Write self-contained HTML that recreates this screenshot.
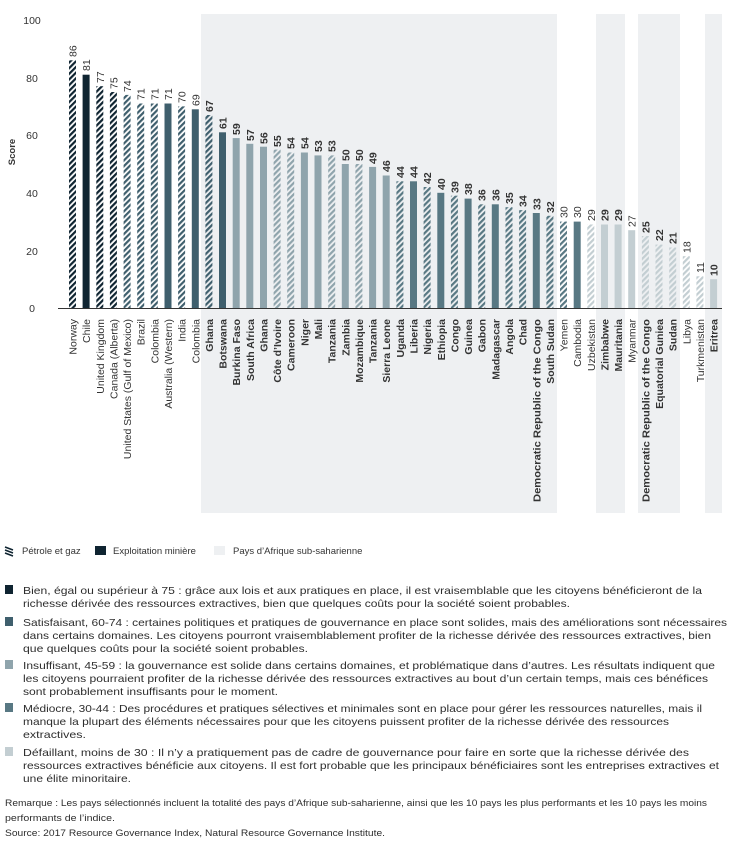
<!DOCTYPE html>
<html><head><meta charset="utf-8"><style>
body{margin:0;width:731px;height:843px;background:#fff;font-family:"Liberation Sans",sans-serif;color:#333;position:relative;overflow:hidden}
</style></head><body>
<svg width="731" height="843" style="position:absolute;left:0;top:0" font-family="Liberation Sans, sans-serif">
<defs>
<pattern id="h1" width="4" height="4" patternUnits="userSpaceOnUse" patternTransform="rotate(45)"><rect width="2.2" height="4" fill="#0f2431"/></pattern>
<pattern id="h2" width="4" height="4" patternUnits="userSpaceOnUse" patternTransform="rotate(45)"><rect width="2.2" height="4" fill="#3f5f6d"/></pattern>
<pattern id="h3" width="4" height="4" patternUnits="userSpaceOnUse" patternTransform="rotate(45)"><rect width="2.2" height="4" fill="#8fa4ac"/></pattern>
<pattern id="h4" width="4" height="4" patternUnits="userSpaceOnUse" patternTransform="rotate(45)"><rect width="2.2" height="4" fill="#587883"/></pattern>
<pattern id="h5" width="4" height="4" patternUnits="userSpaceOnUse" patternTransform="rotate(45)"><rect width="2.2" height="4" fill="#c3ced2"/></pattern>
</defs>
<rect x="201" y="14" width="356" height="499" fill="#eef0f2"/>
<rect x="596" y="14" width="29" height="499" fill="#eef0f2"/>
<rect x="638" y="14" width="42" height="499" fill="#eef0f2"/>
<rect x="705" y="14" width="17" height="499" fill="#eef0f2"/>
<g font-size="10.5" fill="#333" text-anchor="middle">
<text x="32" y="24">100</text><text x="32" y="82">80</text><text x="32" y="139">60</text><text x="32" y="197">40</text><text x="32" y="255">20</text><text x="32" y="312">0</text>
</g>
<text transform="translate(15,152) rotate(-90)" font-size="9.5" font-weight="bold" text-anchor="middle" fill="#333">Score</text>
<g>
<rect x="69" y="60.3" width="7" height="247.7" fill="url(#h1)"/>
<rect x="82.6" y="74.7" width="7" height="233.3" fill="#0f2431"/>
<rect x="96.3" y="86.2" width="7" height="221.8" fill="url(#h1)"/>
<rect x="109.9" y="92" width="7" height="216" fill="url(#h1)"/>
<rect x="123.6" y="94.9" width="7" height="213.1" fill="url(#h2)"/>
<rect x="137.2" y="103.5" width="7" height="204.5" fill="url(#h2)"/>
<rect x="150.8" y="103.5" width="7" height="204.5" fill="url(#h2)"/>
<rect x="164.5" y="103.5" width="7" height="204.5" fill="#3f5f6d"/>
<rect x="178.1" y="106.4" width="7" height="201.6" fill="url(#h2)"/>
<rect x="191.8" y="109.3" width="7" height="198.7" fill="#3f5f6d"/>
<rect x="205.4" y="115" width="7" height="193" fill="url(#h2)"/>
<rect x="219" y="132.3" width="7" height="175.7" fill="#3f5f6d"/>
<rect x="232.7" y="138.1" width="7" height="169.9" fill="#8fa4ac"/>
<rect x="246.3" y="143.8" width="7" height="164.2" fill="#8fa4ac"/>
<rect x="260" y="146.7" width="7" height="161.3" fill="#8fa4ac"/>
<rect x="273.6" y="149.6" width="7" height="158.4" fill="url(#h3)"/>
<rect x="287.2" y="152.5" width="7" height="155.5" fill="url(#h3)"/>
<rect x="300.9" y="152.5" width="7" height="155.5" fill="#8fa4ac"/>
<rect x="314.5" y="155.4" width="7" height="152.6" fill="#8fa4ac"/>
<rect x="328.2" y="155.4" width="7" height="152.6" fill="url(#h3)"/>
<rect x="341.8" y="164" width="7" height="144" fill="#8fa4ac"/>
<rect x="355.4" y="164" width="7" height="144" fill="url(#h3)"/>
<rect x="369.1" y="166.9" width="7" height="141.1" fill="#8fa4ac"/>
<rect x="382.7" y="175.5" width="7" height="132.5" fill="#8fa4ac"/>
<rect x="396.4" y="181.3" width="7" height="126.7" fill="url(#h4)"/>
<rect x="410" y="181.3" width="7" height="126.7" fill="#587883"/>
<rect x="423.6" y="187" width="7" height="121" fill="url(#h4)"/>
<rect x="437.3" y="192.8" width="7" height="115.2" fill="#587883"/>
<rect x="450.9" y="195.7" width="7" height="112.3" fill="url(#h4)"/>
<rect x="464.6" y="198.6" width="7" height="109.4" fill="#587883"/>
<rect x="478.2" y="204.3" width="7" height="103.7" fill="url(#h4)"/>
<rect x="491.8" y="204.3" width="7" height="103.7" fill="#587883"/>
<rect x="505.5" y="207.2" width="7" height="100.8" fill="url(#h4)"/>
<rect x="519.1" y="210.1" width="7" height="97.9" fill="url(#h4)"/>
<rect x="532.8" y="213" width="7" height="95" fill="#587883"/>
<rect x="546.4" y="215.8" width="7" height="92.2" fill="url(#h4)"/>
<rect x="560" y="221.6" width="7" height="86.4" fill="url(#h4)"/>
<rect x="573.7" y="221.6" width="7" height="86.4" fill="#587883"/>
<rect x="587.3" y="224.5" width="7" height="83.5" fill="url(#h5)"/>
<rect x="601" y="224.5" width="7" height="83.5" fill="#c3ced2"/>
<rect x="614.6" y="224.5" width="7" height="83.5" fill="#c3ced2"/>
<rect x="628.2" y="230.2" width="7" height="77.8" fill="#c3ced2"/>
<rect x="641.9" y="236" width="7" height="72" fill="url(#h5)"/>
<rect x="655.5" y="244.6" width="7" height="63.4" fill="url(#h5)"/>
<rect x="669.2" y="247.5" width="7" height="60.5" fill="url(#h5)"/>
<rect x="682.8" y="256.2" width="7" height="51.8" fill="url(#h5)"/>
<rect x="696.4" y="276.3" width="7" height="31.7" fill="url(#h5)"/>
<rect x="710.1" y="279.2" width="7" height="28.8" fill="#c3ced2"/>
</g>
<line x1="58" y1="308.5" x2="722" y2="308.5" stroke="#333" stroke-width="1"/>
<g font-size="10.5" fill="#333">
<text transform="translate(76.5,57) rotate(-90)">86</text>
<text transform="translate(90.1,71) rotate(-90)">81</text>
<text transform="translate(103.8,83) rotate(-90)">77</text>
<text transform="translate(117.4,89) rotate(-90)">75</text>
<text transform="translate(131.1,92) rotate(-90)">74</text>
<text transform="translate(144.7,100) rotate(-90)">71</text>
<text transform="translate(158.3,100) rotate(-90)">71</text>
<text transform="translate(172,100) rotate(-90)">71</text>
<text transform="translate(185.6,103) rotate(-90)">70</text>
<text transform="translate(199.3,106) rotate(-90)">69</text>
<text transform="translate(567.5,218) rotate(-90)">30</text>
<text transform="translate(581.2,218) rotate(-90)">30</text>
<text transform="translate(594.8,221) rotate(-90)">29</text>
<text transform="translate(635.7,227) rotate(-90)">27</text>
<text transform="translate(690.3,253) rotate(-90)">18</text>
<text transform="translate(703.9,273) rotate(-90)">11</text>
</g>
<g font-size="10.5" fill="#333" font-weight="bold">
<text transform="translate(212.9,112) rotate(-90)">67</text>
<text transform="translate(226.5,129) rotate(-90)">61</text>
<text transform="translate(240.2,135) rotate(-90)">59</text>
<text transform="translate(253.8,141) rotate(-90)">57</text>
<text transform="translate(267.5,144) rotate(-90)">56</text>
<text transform="translate(281.1,147) rotate(-90)">55</text>
<text transform="translate(294.7,149) rotate(-90)">54</text>
<text transform="translate(308.4,149) rotate(-90)">54</text>
<text transform="translate(322,152) rotate(-90)">53</text>
<text transform="translate(335.7,152) rotate(-90)">53</text>
<text transform="translate(349.3,161) rotate(-90)">50</text>
<text transform="translate(362.9,161) rotate(-90)">50</text>
<text transform="translate(376.6,164) rotate(-90)">49</text>
<text transform="translate(390.2,172) rotate(-90)">46</text>
<text transform="translate(403.9,178) rotate(-90)">44</text>
<text transform="translate(417.5,178) rotate(-90)">44</text>
<text transform="translate(431.1,184) rotate(-90)">42</text>
<text transform="translate(444.8,190) rotate(-90)">40</text>
<text transform="translate(458.4,193) rotate(-90)">39</text>
<text transform="translate(472.1,195) rotate(-90)">38</text>
<text transform="translate(485.7,201) rotate(-90)">36</text>
<text transform="translate(499.3,201) rotate(-90)">36</text>
<text transform="translate(513,204) rotate(-90)">35</text>
<text transform="translate(526.6,207) rotate(-90)">34</text>
<text transform="translate(540.3,210) rotate(-90)">33</text>
<text transform="translate(553.9,213) rotate(-90)">32</text>
<text transform="translate(608.5,221) rotate(-90)">29</text>
<text transform="translate(622.1,221) rotate(-90)">29</text>
<text transform="translate(649.4,233) rotate(-90)">25</text>
<text transform="translate(663,241) rotate(-90)">22</text>
<text transform="translate(676.7,244) rotate(-90)">21</text>
<text transform="translate(717.6,276) rotate(-90)">10</text>
</g>
<g font-size="10.5" fill="#333" text-anchor="end">
<text transform="translate(76.5,319) rotate(-90)">Norway</text>
<text transform="translate(90.1,319) rotate(-90)">Chile</text>
<text transform="translate(103.8,319) rotate(-90)">United Kingdom</text>
<text transform="translate(117.4,319) rotate(-90)">Canada (Alberta)</text>
<text transform="translate(131.1,319) rotate(-90)">United States (Gulf of Mexico)</text>
<text transform="translate(144.7,319) rotate(-90)">Brazil</text>
<text transform="translate(158.3,319) rotate(-90)">Colombia</text>
<text transform="translate(172,319) rotate(-90)">Australia (Western)</text>
<text transform="translate(185.6,319) rotate(-90)">India</text>
<text transform="translate(199.3,319) rotate(-90)">Colombia</text>
<text transform="translate(567.5,319) rotate(-90)">Yemen</text>
<text transform="translate(581.2,319) rotate(-90)">Cambodia</text>
<text transform="translate(594.8,319) rotate(-90)">Uzbekistan</text>
<text transform="translate(635.7,319) rotate(-90)">Myanmar</text>
<text transform="translate(690.3,319) rotate(-90)">Libya</text>
<text transform="translate(703.9,319) rotate(-90)">Turkmenistan</text>
</g>
<g font-size="10.5" fill="#333" text-anchor="end" font-weight="bold">
<text transform="translate(212.9,319) rotate(-90)">Ghana</text>
<text transform="translate(226.5,319) rotate(-90)">Botswana</text>
<text transform="translate(240.2,319) rotate(-90)">Burkina Faso</text>
<text transform="translate(253.8,319) rotate(-90)">South Africa</text>
<text transform="translate(267.5,319) rotate(-90)">Ghana</text>
<text transform="translate(281.1,319) rotate(-90)">Côte d’Ivoire</text>
<text transform="translate(294.7,319) rotate(-90)">Cameroon</text>
<text transform="translate(308.4,319) rotate(-90)">Niger</text>
<text transform="translate(322,319) rotate(-90)">Mali</text>
<text transform="translate(335.7,319) rotate(-90)">Tanzania</text>
<text transform="translate(349.3,319) rotate(-90)">Zambia</text>
<text transform="translate(362.9,319) rotate(-90)">Mozambique</text>
<text transform="translate(376.6,319) rotate(-90)">Tanzania</text>
<text transform="translate(390.2,319) rotate(-90)">Sierra Leone</text>
<text transform="translate(403.9,319) rotate(-90)">Uganda</text>
<text transform="translate(417.5,319) rotate(-90)">Liberia</text>
<text transform="translate(431.1,319) rotate(-90)">Nigeria</text>
<text transform="translate(444.8,319) rotate(-90)">Ethiopia</text>
<text transform="translate(458.4,319) rotate(-90)">Congo</text>
<text transform="translate(472.1,319) rotate(-90)">Guinea</text>
<text transform="translate(485.7,319) rotate(-90)">Gabon</text>
<text transform="translate(499.3,319) rotate(-90)">Madagascar</text>
<text transform="translate(513,319) rotate(-90)">Angola</text>
<text transform="translate(526.6,319) rotate(-90)">Chad</text>
<text transform="translate(540.3,319) rotate(-90)" textLength="183" lengthAdjust="spacingAndGlyphs">Democratic Republic of the Congo</text>
<text transform="translate(553.9,319) rotate(-90)">South Sudan</text>
<text transform="translate(608.5,319) rotate(-90)">Zimbabwe</text>
<text transform="translate(622.1,319) rotate(-90)">Mauritania</text>
<text transform="translate(649.4,319) rotate(-90)" textLength="183" lengthAdjust="spacingAndGlyphs">Democratic Republic of the Congo</text>
<text transform="translate(663,319) rotate(-90)">Equatorial Guniea</text>
<text transform="translate(676.7,319) rotate(-90)">Sudan</text>
<text transform="translate(717.6,319) rotate(-90)">Eritrea</text>
</g>
<g>
<path d="M5 547 l8 3 M5 550 l8 3 M5 553 l8 3" stroke="#0f2431" stroke-width="1.6"/>
<text x="22" y="554" font-size="9.5" fill="#333">Pétrole et gaz</text>
<rect x="95" y="546" width="11" height="9" fill="#0f2431"/>
<text x="113" y="554" font-size="9.5" fill="#333">Exploitation minière</text>
<rect x="214" y="546" width="11" height="9" fill="#eef0f2"/>
<text x="233" y="554" font-size="9.5" fill="#333">Pays d’Afrique sub-saharienne</text>
</g>
<rect x="5" y="585" width="8" height="9" fill="#0f2431"/>
<rect x="5" y="617" width="8" height="9" fill="#3f5f6d"/>
<rect x="5" y="660" width="8" height="9" fill="#8fa4ac"/>
<rect x="5" y="703" width="8" height="9" fill="#587883"/>
<rect x="5" y="747" width="8" height="9" fill="#c3ced2"/>
<g font-size="10.5" fill="#2d2d2d" lengthAdjust="spacingAndGlyphs">
<text x="23" y="594" textLength="679" lengthAdjust="spacingAndGlyphs">Bien, égal ou supérieur à 75 : grâce aux lois et aux pratiques en place, il est vraisemblable que les citoyens bénéficieront de la</text>
<text x="23" y="607" textLength="547" lengthAdjust="spacingAndGlyphs">richesse dérivée des ressources extractives, bien que quelques coûts pour la société soient probables.</text>
<text x="23" y="626" textLength="704" lengthAdjust="spacingAndGlyphs">Satisfaisant, 60-74 : certaines politiques et pratiques de gouvernance en place sont solides, mais des améliorations sont nécessaires</text>
<text x="23" y="639" textLength="688" lengthAdjust="spacingAndGlyphs">dans certains domaines. Les citoyens pourront vraisemblablement profiter de la richesse dérivée des ressources extractives, bien</text>
<text x="23" y="652" textLength="285" lengthAdjust="spacingAndGlyphs">que quelques coûts pour la société soient probables.</text>
<text x="23" y="669" textLength="692" lengthAdjust="spacingAndGlyphs">Insuffisant, 45-59 : la gouvernance est solide dans certains domaines, et problématique dans d’autres. Les résultats indiquent que</text>
<text x="23" y="682" textLength="685" lengthAdjust="spacingAndGlyphs">les citoyens pourraient profiter de la richesse dérivée des ressources extractives au bout d’un certain temps, mais ces bénéfices</text>
<text x="23" y="695" textLength="255" lengthAdjust="spacingAndGlyphs">sont probablement insuffisants pour le moment.</text>
<text x="23" y="712" textLength="679" lengthAdjust="spacingAndGlyphs">Médiocre, 30-44 : Des procédures et pratiques sélectives et minimales sont en place pour gérer les ressources naturelles, mais il</text>
<text x="23" y="725" textLength="646" lengthAdjust="spacingAndGlyphs">manque la plupart des éléments nécessaires pour que les citoyens puissent profiter de la richesse dérivée des ressources</text>
<text x="23" y="738" textLength="63" lengthAdjust="spacingAndGlyphs">extractives.</text>
<text x="23" y="756" textLength="666" lengthAdjust="spacingAndGlyphs">Défaillant, moins de 30 : Il n’y a pratiquement pas de cadre de gouvernance pour faire en sorte que la richesse dérivée des</text>
<text x="23" y="769" textLength="696" lengthAdjust="spacingAndGlyphs">ressources extractives bénéficie aux citoyens. Il est fort probable que les principaux bénéficiaires sont les entreprises extractives et</text>
<text x="23" y="782" textLength="108" lengthAdjust="spacingAndGlyphs">une élite minoritaire.</text>
</g>
<g font-size="8.8" fill="#2d2d2d">
<text x="5" y="806" textLength="702" lengthAdjust="spacingAndGlyphs">Remarque : Les pays sélectionnés incluent la totalité des pays d’Afrique sub-saharienne, ainsi que les 10 pays les plus performants et les 10 pays les moins</text>
<text x="5" y="821" textLength="110" lengthAdjust="spacingAndGlyphs">performants de l’indice.</text>
<text x="5" y="836" textLength="380" lengthAdjust="spacingAndGlyphs">Source: 2017 Resource Governance Index, Natural Resource Governance Institute.</text>
</g>
</svg>
</body></html>
